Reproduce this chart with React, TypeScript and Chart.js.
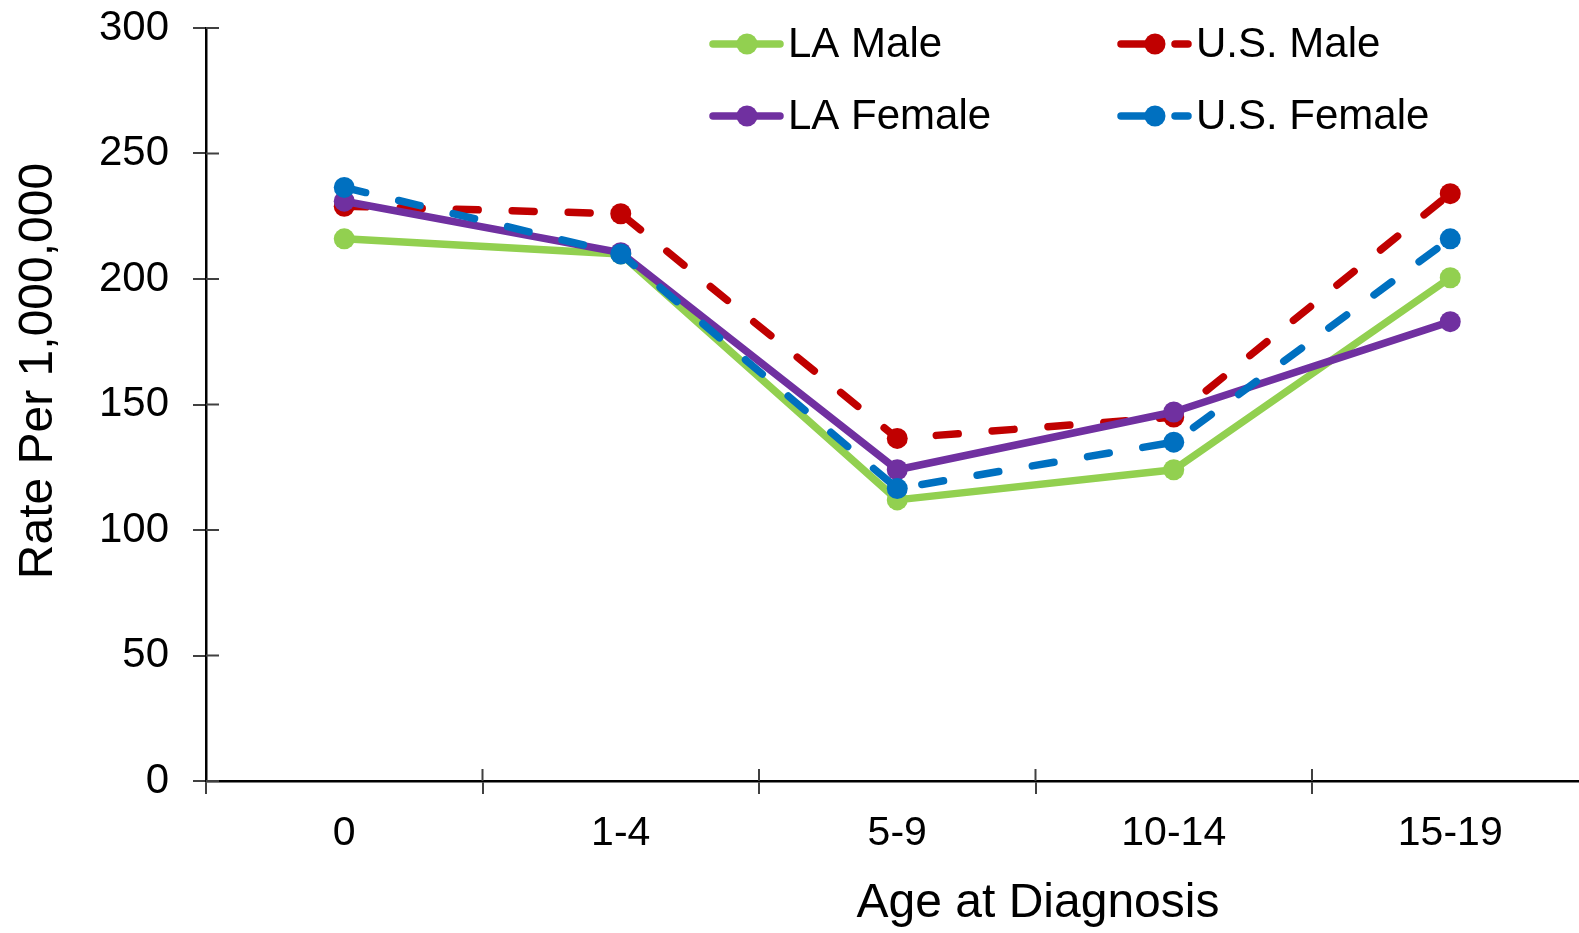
import React, { useEffect, useRef } from "react";
import { Chart, registerables } from "chart.js";

Chart.register(...registerables);

const categories = ["0", "1-4", "5-9", "10-14", "15-19"];
const laMale = [216, 210, 112, 124, 200.5];
const laFemale = [231, 210.5, 124, 147, 183];
const usMale = [229, 226, 136.5, 145, 234];
const usFemale = [236.5, 210, 116.5, 135, 216];
const yTicks = [0, 50, 100, 150, 200, 250, 300];
const xTitle = "Age at Diagnosis";
const yTitle = "Rate Per 1,000,000";

const GREEN = "#92D050";
const RED = "#C00000";
const PURPLE = "#7030A0";
const BLUE = "#0070C0";
const FONT = "'Liberation Sans', Arial, sans-serif";
const TICKC = "#404040";

const legendItems = [
  { label: "LA Male", color: GREEN, dashed: false, x: 710, y: 44 },
  { label: "U.S. Male", color: RED, dashed: true, x: 1118, y: 44 },
  { label: "LA Female", color: PURPLE, dashed: false, x: 710, y: 116 },
  { label: "U.S. Female", color: BLUE, dashed: true, x: 1118, y: 116 },
];

const decorPlugin = {
  id: "decor",
  afterDraw(chart: any) {
    const ctx = chart.ctx;
    const area = chart.chartArea;
    const ys = chart.scales.y;
    ctx.save();
    // inner tick halves
    ctx.strokeStyle = TICKC;
    ctx.lineWidth = 2;
    ctx.beginPath();
    for (const v of yTicks) {
      const py = ys.getPixelForValue(v);
      ctx.moveTo(area.left, py);
      ctx.lineTo(area.left + 13, py);
    }
    const n = categories.length;
    const w = (area.right - area.left) / n;
    for (let i = 1; i <= n; i++) {
      const px = area.left + i * w;
      ctx.moveTo(px, area.bottom);
      ctx.lineTo(px, area.bottom - 12);
    }
    ctx.stroke();

    // legend
    ctx.font = `42px ${FONT}`;
    ctx.textBaseline = "middle";
    ctx.textAlign = "left";
    for (const it of legendItems) {
      ctx.strokeStyle = it.color;
      ctx.fillStyle = it.color;
      ctx.lineWidth = 7.5;
      ctx.lineCap = "round";
      ctx.beginPath();
      if (it.dashed) {
        ctx.moveTo(it.x + 3, it.y);
        ctx.lineTo(it.x + 40, it.y);
        ctx.moveTo(it.x + 57, it.y);
        ctx.lineTo(it.x + 70, it.y);
      } else {
        ctx.moveTo(it.x + 3, it.y);
        ctx.lineTo(it.x + 70, it.y);
      }
      ctx.stroke();
      ctx.beginPath();
      ctx.arc(it.x + 37, it.y, 10.5, 0, Math.PI * 2);
      ctx.fill();
      ctx.fillStyle = "#000";
      ctx.fillText(it.label, it.x + 78, it.y + 1);
    }

    // axis titles
    ctx.fillStyle = "#000";
    ctx.font = `48px ${FONT}`;
    ctx.textAlign = "center";
    ctx.textBaseline = "alphabetic";
    ctx.fillText(xTitle, 1038, 917);
    ctx.translate(52, 371);
    ctx.rotate(-Math.PI / 2);
    ctx.fillText(yTitle, 0, 0);
    ctx.restore();
  },
};

export default function App() {
  const ref = useRef<HTMLCanvasElement | null>(null);
  useEffect(() => {
    if (!ref.current) return;
    const mk = (label: string, data: number[], color: string, dashed: boolean) => ({
      label,
      data,
      borderColor: color,
      backgroundColor: color,
      pointBackgroundColor: color,
      pointBorderColor: color,
      pointBorderWidth: 0,
      pointRadius: 10.5,
      borderWidth: 7.5,
      borderDash: dashed ? [22, 34] : [],
      borderCapStyle: "round" as const,
      borderJoinStyle: "round" as const,
      tension: 0,
      fill: false,
    });
    const chart = new Chart(ref.current, {
      type: "line",
      data: {
        labels: categories,
        datasets: [
          mk("U.S. Female", usFemale, BLUE, true),
          mk("LA Female", laFemale, PURPLE, false),
          mk("U.S. Male", usMale, RED, true),
          mk("LA Male", laMale, GREEN, false),
        ],
      },
      plugins: [decorPlugin],
      options: {
        animation: false,
        responsive: false,
        devicePixelRatio: 1,
        layout: { padding: { top: 28, right: 1.5, left: 0, bottom: 0 } },
        plugins: { legend: { display: false }, tooltip: { enabled: false } },
        scales: {
          x: {
            type: "category",
            offset: true,
            grid: {
              offset: true,
              drawOnChartArea: false,
              drawTicks: true,
              tickLength: 13,
              color: TICKC,
              lineWidth: 2,
            },
            border: { display: true, color: "#000", width: 2.5 },
            ticks: {
              color: "#000",
              font: { family: FONT, size: 41, lineHeight: 1 },
              padding: 19,
              maxRotation: 0,
              autoSkip: false,
            },
            afterFit: (s: any) => {
              s.height = 933 - 781;
              s.paddingLeft = 0;
              s.paddingRight = 0;
            },
          },
          y: {
            type: "linear",
            min: 0,
            max: 300,
            afterBuildTicks: (s: any) => {
              s.ticks = yTicks.map((v) => ({ value: v }));
            },
            grid: {
              drawOnChartArea: false,
              drawTicks: true,
              tickLength: 13,
              color: TICKC,
              lineWidth: 2,
            },
            border: { display: true, color: "#000", width: 2.5 },
            ticks: {
              color: "#000",
              font: { family: FONT, size: 42 },
              padding: 24,
            },
            afterFit: (s: any) => {
              s.width = 206;
              s.paddingTop = 0;
              s.paddingBottom = 0;
            },
          },
        },
      },
    });
    return () => chart.destroy();
  }, []);
  return (
    <div
      style={{
        position: "fixed",
        left: 0,
        top: 0,
        width: 1579,
        height: 933,
        overflow: "hidden",
        background: "#fff",
      }}
    >
      <canvas ref={ref} width={1599} height={933} style={{ display: "block" }} />
    </div>
  );
}
